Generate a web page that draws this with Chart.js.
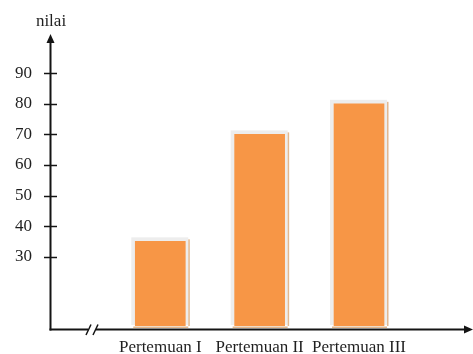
<!DOCTYPE html>
<html>
<head>
<meta charset="utf-8">
<script src="https://cdn.jsdelivr.net/npm/chart.js@4"></script>
<style>
  html, body { margin: 0; padding: 0; background: #fff; }
</style>
</head>
<body>
<canvas id="canvas" width="473" height="354"></canvas>
<script>
    var labels = ["Pertemuan I", "Pertemuan II", "Pertemuan III"];
    var nilai = [35, 70, 80];
    var yTicks = [30, 40, 50, 60, 70, 80, 90];
    var yTitle = "nilai";

    var textColor = '#1f1f1f';
    var axisColor = '#141414';
    var serif = {family: "'Liberation Serif', 'Times New Roman', serif", size: 17};

    // axis lines with arrows, the // break, tick marks and the "nilai" title
    var axesPlugin = {
        id: 'axes',
        beforeDatasetsDraw: function(chart) {
            var ctx = chart.ctx;
            var meta = chart.getDatasetMeta(0);
            var bottom = chart.chartArea.bottom;
            ctx.save();
            meta.data.forEach(function(bar) {
                var p = bar.getProps(['x', 'y', 'width', 'base'], true);
                var base = Math.min(p.base, bottom);
                var l = p.x - p.width / 2, r = p.x + p.width / 2;
                ctx.fillStyle = '#ededed';
                ctx.fillRect(l - 4, p.y - 4, p.width + 7, base - p.y + 3);
                ctx.fillStyle = '#e2b88f';
                ctx.fillRect(r + 3, p.y - 2, 1.5, base - p.y + 2);
                ctx.fillRect(l - 2, base + 0.5, p.width + 5, 1.5);
            });
            ctx.restore();
        },
        afterDatasetsDraw: function(chart) {
            var ctx = chart.ctx;
            var y = chart.scales.y;
            var ax = 50.5, ay = 329.5;
            ctx.save();
            ctx.strokeStyle = axisColor;
            ctx.fillStyle = axisColor;
            ctx.lineWidth = 2;

            // y axis
            ctx.beginPath();
            ctx.moveTo(ax, ay + 1);
            ctx.lineTo(ax, 40);
            ctx.stroke();
            ctx.beginPath();
            ctx.moveTo(ax, 34);
            ctx.lineTo(ax - 4, 43);
            ctx.lineTo(ax + 4, 43);
            ctx.closePath();
            ctx.fill();

            // x axis with break
            ctx.beginPath();
            ctx.moveTo(ax - 1, ay);
            ctx.lineTo(88, ay);
            ctx.moveTo(96, ay);
            ctx.lineTo(466, ay);
            ctx.stroke();
            ctx.beginPath();
            ctx.moveTo(473, ay);
            ctx.lineTo(464, ay - 4);
            ctx.lineTo(464, ay + 4);
            ctx.closePath();
            ctx.fill();

            ctx.lineWidth = 1.5;
            ctx.beginPath();
            ctx.moveTo(86, 335);
            ctx.lineTo(91, 324.5);
            ctx.moveTo(93, 335);
            ctx.lineTo(98, 324.5);
            ctx.stroke();

            // tick marks crossing the y axis
            ctx.lineWidth = 1.5;
            yTicks.forEach(function(v) {
                var py = Math.round(y.getPixelForValue(v)) + 0.5;
                ctx.beginPath();
                ctx.moveTo(44, py);
                ctx.lineTo(57, py);
                ctx.stroke();
            });

            // axis title
            ctx.fillStyle = textColor;
            ctx.font = serif.size + 'px ' + serif.family;
            ctx.textAlign = 'center';
            ctx.textBaseline = 'alphabetic';
            ctx.fillText(yTitle, 51, 26);
            ctx.restore();
        }
    };

    var config = {
        type: 'bar',
        data: {
            labels: labels,
            datasets: [{
                label: yTitle,
                data: nilai,
                backgroundColor: '#F79646',
                borderWidth: 0,
                barThickness: 50
            }]
        },
        options: {
            responsive: false,
            animation: false,
            layout: {
                padding: {top: 42.7, right: 64.3, bottom: 0, left: 0}
            },
            plugins: {
                legend: {display: false},
                tooltip: {enabled: false}
            },
            scales: {
                x: {
                    grid: {display: false},
                    border: {display: false},
                    ticks: {
                        color: textColor,
                        font: serif,
                        padding: 3,
                        maxRotation: 0,
                        autoSkip: false
                    },
                    afterFit: function(s) { s.height = 28; }
                },
                y: {
                    min: 7.3,
                    max: 100,
                    // invisible tick marks push the labels out to the left edge
                    grid: {
                        display: true,
                        drawOnChartArea: false,
                        color: 'rgba(0,0,0,0)',
                        tickLength: 78.6
                    },
                    border: {display: false},
                    afterBuildTicks: function(s) {
                        s.ticks = yTicks.map(function(v) { return {value: v}; });
                    },
                    ticks: {
                        color: textColor,
                        font: serif,
                        padding: 0
                    },
                    afterFit: function(s) { s.width = 110.6; }
                }
            }
        },
        plugins: [axesPlugin]
    };

    window.onload = function() {
        window.myBar = new Chart(document.getElementById("canvas"), config);
    };
</script>
</body>
</html>
